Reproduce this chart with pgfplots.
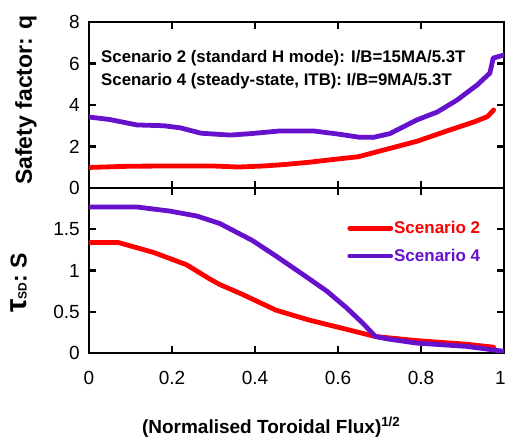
\documentclass[border=0pt]{standalone}
\usepackage{pgfplots}
\pgfplotsset{compat=1.18}
\usepackage{fontspec}
\setmainfont{Liberation Sans}

\definecolor{sctwo}{RGB}{255,0,0}
\definecolor{scfour}{RGB}{102,17,204}

\pgfplotsset{
  profile/.style={
    scale only axis,
    width=415pt,
    xmin=0, xmax=1,
    xtick={0,0.2,0.4,0.6,0.8,1},
    tick align=inside,
    major tick length=7pt,
    every tick/.style={black, line width=2.2pt},
    axis line style={line width=2.5pt},
    tick label style={font=\fontsize{19}{19}\selectfont},
    /pgf/number format/assume math mode=true,
    yticklabel style={inner sep=0pt, xshift=-9pt},
    xticklabel style={inner sep=0pt, yshift=-18pt},
    every axis plot/.append style={line width=4.8pt, line join=round, line cap=round},
  },
}

\begin{document}
\begin{tikzpicture}
\useasboundingbox (0pt,0pt) rectangle (507pt,441pt);

% q profiles
\begin{axis}[profile,
  at={(89pt,253pt)}, anchor=south west,
  height=166pt,
  ymin=0, ymax=8,
  ytick={0,2,4,6,8},
  xticklabels={},
  ylabel={\bfseries Safety factor: q},
  ylabel style={font=\fontsize{23}{23}\selectfont, at={(axis description cs:-0.152,0.53)}, anchor=center},
]
\addplot[sctwo] coordinates {
  (0,0.99) (0.1,1.05) (0.2,1.06) (0.3,1.06) (0.36,1.01) (0.42,1.06)
  (0.47,1.13) (0.53,1.24) (0.6,1.40) (0.65,1.51) (0.71,1.83) (0.79,2.25)
  (0.87,2.80) (0.93,3.20) (0.96,3.44) (0.975,3.76)
};
\addplot[scfour] coordinates {
  (0,3.42) (0.05,3.30) (0.115,3.04) (0.18,3.0) (0.22,2.9) (0.27,2.64)
  (0.34,2.55) (0.39,2.62) (0.46,2.75) (0.54,2.75) (0.6,2.6) (0.65,2.45)
  (0.685,2.44) (0.725,2.62) (0.79,3.28) (0.84,3.67) (0.887,4.24)
  (0.935,4.96) (0.966,5.54) (0.974,6.26) (1.0,6.41)
};
\node[anchor=base west, inner sep=0pt, font=\fontsize{16.8}{16.8}\selectfont\bfseries]
  at (rel axis cs:0.029,0.759) {Scenario 2 (standard H mode): I/B=15MA/5.3T};
\node[anchor=base west, inner sep=0pt, font=\fontsize{16.8}{16.8}\selectfont\bfseries]
  at (rel axis cs:0.029,0.620) {Scenario 4 (steady-state, ITB): I/B=9MA/5.3T};
\end{axis}

% slowing-down time profiles
\begin{axis}[profile,
  at={(89pt,88pt)}, anchor=south west,
  height=165pt,
  ymin=0, ymax=2,
  ytick={0,0.5,1,1.5},
  xticklabels={0,0.2,0.4,0.6,0.8,\makebox[0pt][c]{\hspace*{-7pt}1}},
  xlabel={\bfseries (Normalised Toroidal Flux)\textsuperscript{1/2}},
  xlabel style={font=\fontsize{19}{19}\selectfont, at={(axis description cs:0.439,-0.45)}, anchor=center},
  ylabel={\bfseries{\fontsize{30}{30}\selectfont τ}{\fontsize{12}{12}\selectfont SD}{\fontsize{23}{23}\selectfont : S}},
  ylabel style={at={(axis description cs:-0.169,0.424)}, anchor=center},
  legend cell align=left,
  legend image code/.code={\draw[#1] (0pt,0pt) -- (41pt,0pt);},
  legend style={draw=none, fill=none, inner sep=0pt,
    at={(axis description cs:0.622,0.806)}, anchor=north west,
    font=\fontsize{17}{17}\selectfont\bfseries,
    nodes={inner sep=1pt},
    row sep=12pt,
    /tikz/every even column/.append style={column sep=3pt}},
]
\addplot[sctwo] coordinates {
  (0,1.34) (0.07,1.34) (0.155,1.22) (0.235,1.07) (0.29,0.9) (0.315,0.83)
  (0.37,0.71) (0.45,0.52) (0.53,0.40) (0.61,0.30) (0.65,0.25) (0.69,0.2)
  (0.79,0.15) (0.91,0.106) (0.975,0.07)
};
\addlegendentry{\textcolor{sctwo}{Scenario 2}}
\addplot[scfour] coordinates {
  (0,1.77) (0.115,1.77) (0.195,1.72) (0.26,1.66) (0.315,1.57) (0.395,1.36)
  (0.452,1.17) (0.516,0.95) (0.573,0.75) (0.62,0.55) (0.66,0.36) (0.69,0.2)
  (0.72,0.17) (0.79,0.12) (0.91,0.08) (1.0,0.02)
};
\addlegendentry{\textcolor{scfour}{Scenario 4}}
\end{axis}
\end{tikzpicture}
\end{document}
